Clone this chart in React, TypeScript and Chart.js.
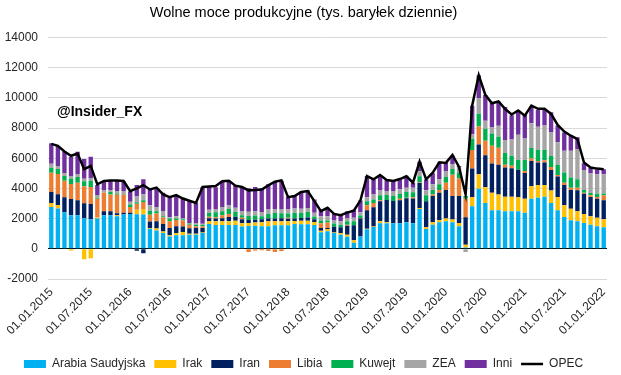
import { useEffect, useRef } from 'react';
import { Chart, registerables } from 'chart.js';

Chart.register(...registerables);

const FONT = '"Liberation Sans", Arial, sans-serif';

// Monthly categories 01.01.2015 .. 01.01.2022
const MONTHS: string[] = [];
for (let i = 0; i < 85; i++) {
  const y = 2015 + Math.floor(i / 12);
  const m = (i % 12) + 1;
  MONTHS.push(`01.${m < 10 ? '0' + m : m}.${y}`);
}

const SERIES_NAMES = ['Arabia Saudyjska', 'Irak', 'Iran', 'Libia', 'Kuwejt', 'ZEA', 'Inni'];
const SERIES_COLORS = ['#00B0F0', '#FFC000', '#002060', '#ED7D31', '#00B050', '#A5A5A5', '#7030A0'];

const arabia = [
  2760, 2670, 2420, 2220, 2220, 2020, 1960, 2000, 2220, 2220, 2160, 2270,
  2310, 2290, 2270, 1330, 1220, 1040, 820, 890, 890, 930, 930, 1040,
  1640, 1580, 1580, 1580, 1580, 1470, 1510, 1530, 1490, 1490, 1560, 1560,
  1560, 1640, 1620, 1620, 1580, 1090, 1160, 1040, 930, 800, 400, 820,
  1290, 1440, 1690, 1690, 1690, 1690, 1760, 1690, 2640, 1310, 1600, 1760,
  1820, 1760, 1490, 90, 2820, 3980, 3040, 2560, 2560, 2490, 2490, 2490,
  2380, 3310, 3380, 3440, 3040, 2560, 2110, 1890, 1820, 1710, 1600, 1490,
  1420,
];
const irak = [
  270, 220, 0, -110, 0, -690, -620, 70, 0, 0, 70, 0,
  0, 290, 360, 40, 130, 110, 70, 160, 220, 70, 70, 40,
  180, 240, 240, 240, 270, 220, 200, 220, 270, 330, 270, 270,
  270, 200, 240, 240, 200, 110, 130, 40, 110, 130, 160, 0,
  40, 40, 130, 70, 0, 0, 0, 0, 70, 110, 160, 130,
  180, 180, 220, 180, 600, 960, 1040, 1160, 1040, 960, 960, 930,
  930, 840, 840, 780, 820, 870, 780, 760, 670, 600, 560, 560,
  530,
];
const iran = [
  730, 730, 1000, 1070, 1000, 1000, 1000, 0, 270, 270, 130, 110,
  70, -130, -290, 440, 470, 490, 490, 440, 360, 360, 400, 290,
  200, 180, 200, 290, 270, 270, 200, 180, 200, 180, 180, 200,
  160, 160, 180, 220, 180, 180, 90, 380, 380, 600, 1000, 1180,
  1220, 1270, 1330, 1470, 1470, 1530, 1580, 1640, 1640, 1730, 1730, 1820,
  1890, 1560, 1780, 1820, 1890, 1960, 2110, 1930, 1960, 1930, 1890, 1820,
  1710, 1670, 1490, 1490, 1360, 1360, 1330, 1240, 1380, 1330, 1270, 1270,
  1270,
];
const libia = [
  1270, 1330, 1090, 1000, 1160, 1130, 1130, 1240, 1220, 1110, 1220, 1180,
  380, 400, 470, 440, 510, 440, 440, 420, 400, 240, 90, 110,
  110, 90, 200, 200, 0, 90, -220, -110, -90, -150, -220, -150,
  70, 0, 0, 0, 0, 310, 360, 0, 0, 70, 0, 40,
  330, 290, 70, 0, 0, 90, 40, 90, 40, 0, 110, 180,
  490, 1400, 1180, 1220, 1240, 1200, 960, 1180, 1130, 180, 160, 0,
  130, 160, 110, 160, 200, 90, 160, 160, 180, 70, 110, 110,
  330,
];
const kuwejt = [
  330, 330, 310, 360, 380, 330, 400, 70, 0, 160, 70, 0,
  180, 110, 110, 270, 160, 70, 180, 90, 90, 70, 110, 110,
  240, 330, 270, 330, 330, 180, 270, 270, 200, 310, 360, 330,
  270, 380, 330, 360, 180, 180, 130, 220, 180, 220, 270, 160,
  270, 220, 330, 330, 330, 330, 380, 330, 420, 400, 290, 380,
  380, 380, 380, 180, 730, 840, 800, 800, 730, 780, 670, 640,
  730, 690, 730, 690, 730, 690, 670, 670, 560, 180, 160, 220,
  110,
];
const zea = [
  270, 200, 200, 130, 160, 160, 200, 180, 180, 130, 180, 270,
  180, 380, 400, 360, 270, 360, 90, 160, 40, 40, 70, 70,
  220, 220, 270, 240, 270, 270, 270, 290, 270, 290, 270, 270,
  270, 290, 290, 270, 240, 290, 290, 200, 220, 220, 220, 220,
  270, 330, 310, 270, 330, 310, 290, 290, 330, 330, 380, 330,
  400, 330, 330, -220, 300, 1040, 530, 440, 730, 870, 1070, 1670,
  1420, 1640, 1530, 1600, 1560, 1490, 1440, 1780, 2000, 1330, 1290, 1290,
  1270,
];
const inni = [
  1360, 1330, 1420, 1310, 1510, 1310, 1400, 670, 600, 600, 670, 620,
  670, 760, 1000, 1110, 1240, 1200, 1290, 1330, 1380, 1490, 1380, 2420,
  1560, 1440, 1690, 1640, 1510, 1560, 1560, 1600, 1590, 1670, 1780, 1870,
  840, 890, 1110, 1160, 890, 440, 560, 420, 440, 440, 530, 780,
  1400, 1000, 1000, 710, 670, 640, 780, 330, 620, 710, 730, 1110,
  560, 560, 110, 0, 1900, 1510, 1710, 1600, 1600, 2180, 1600, 1600,
  1600, 1110, 1110, 1040, 1330, 1110, 1220, 1000, 780, 440, 360, 330,
  330,
];
const opec = [
  6950, 6820, 6440, 6160, 6310, 5270, 5490, 4270, 4490, 4530, 4530, 4490,
  3820, 4000, 4220, 3930, 4050, 3600, 3420, 3560, 3330, 3180, 3040, 4090,
  4130, 4160, 4470, 4510, 4180, 4090, 3870, 3890, 3930, 4200, 4440, 4530,
  3420, 3490, 3760, 3820, 3160, 2490, 2710, 2310, 2220, 2400, 2530, 3200,
  4820, 4600, 4890, 4560, 4490, 4620, 4800, 4380, 5780, 4600, 5040, 5730,
  5690, 6220, 5420, 3600, 9490, 11490, 10200, 9640, 9760, 9270, 8890, 9160,
  8820, 9490, 9270, 9270, 8930, 8200, 7760, 7490, 7270, 5710, 5380, 5310,
  5270,
];

const SERIES_VALUES = [arabia, irak, iran, libia, kuwejt, zea, inni];

const TITLE = 'Wolne moce produkcyjne (tys. baryłek dziennie)';
const WATERMARK = '@Insider_FX';

const watermarkPlugin = {
  id: 'watermark',
  afterDraw(chart: any) {
    const ctx = chart.ctx;
    ctx.save();
    ctx.font = `bold 14px ${FONT}`;
    ctx.fillStyle = '#000';
    ctx.textBaseline = 'middle';
    ctx.textAlign = 'left';
    ctx.fillText(WATERMARK, 57, 112);
    ctx.restore();
  },
};

export default function App() {
  const ref = useRef<HTMLCanvasElement | null>(null);

  useEffect(() => {
    if (!ref.current) return;
    const barSets = SERIES_NAMES.map((name, i) => ({
      type: 'bar' as const,
      label: name,
      data: SERIES_VALUES[i],
      backgroundColor: SERIES_COLORS[i],
      borderWidth: 0,
      stack: 'bars',
      order: 1,
      barPercentage: 0.66,
      categoryPercentage: 1,
    }));
    const chart = new Chart(ref.current, {
      type: 'bar',
      data: {
        labels: MONTHS,
        datasets: [
          ...barSets,
          {
            type: 'line' as const,
            label: 'OPEC',
            data: opec,
            borderColor: '#000',
            backgroundColor: '#000',
            borderWidth: 2.5,
            pointRadius: 0,
            tension: 0,
            stack: 'line',
            order: 0,
          } as any,
        ],
      },
      options: {
        animation: false,
        responsive: true,
        maintainAspectRatio: false,
        devicePixelRatio: 1,
        layout: { padding: { left: 0, right: 14, top: 0, bottom: -5 } },
        plugins: {
          title: {
            display: true,
            text: TITLE,
            color: '#000',
            font: { family: FONT, size: 14.5, weight: 'normal' },
            padding: { top: 4, bottom: 16 },
          },
          legend: {
            position: 'bottom',
            labels: {
              usePointStyle: true,
              pointStyleWidth: 22,
              boxHeight: 8,
              padding: 9,
              color: '#262626',
              font: { family: FONT, size: 12 },
              generateLabels: (c: any) => {
                const items = Chart.defaults.plugins.legend.labels.generateLabels(c);
                items.sort((a: any, b: any) => a.datasetIndex - b.datasetIndex);
                items.forEach((it: any) => {
                  if (it.datasetIndex === 7) {
                    it.pointStyle = 'line';
                    it.lineWidth = 2.5;
                    it.strokeStyle = '#000';
                    it.fillStyle = '#000';
                  } else {
                    it.pointStyle = 'rect';
                    it.lineWidth = 0;
                  }
                });
                return items;
              },
            },
          },
          tooltip: { enabled: false },
        },
        scales: {
          x: {
            stacked: true,
            grid: { display: false, drawTicks: false },
            border: { display: false },
            ticks: {
              autoSkip: false,
              maxRotation: 45,
              minRotation: 45,
              padding: 6,
              color: '#262626',
              font: { family: FONT, size: 12 },
              callback: (_v: any, idx: number) => (idx % 6 === 0 ? MONTHS[idx] : ''),
            },
            afterFit: (s: any) => {
              s.height = 70;
            },
          },
          y: {
            stacked: true,
            min: -2000,
            max: 14000,
            border: { display: false },
            grid: {
              drawTicks: false,
              color: (ctx: any) => (ctx.tick && ctx.tick.value === 0 ? '#000' : '#D9D9D9'),
              lineWidth: 1,
            },
            ticks: {
              stepSize: 2000,
              padding: 10,
              color: '#262626',
              font: { family: FONT, size: 12 },
              callback: (v: any) => String(v),
            },
            afterFit: (s: any) => {
              s.width = 48;
            },
          },
        },
      } as any,
      plugins: [watermarkPlugin],
    });
    return () => chart.destroy();
  }, []);

  return (
    <div style={{ position: 'absolute', left: 0, top: 0, width: 621, height: 375 }}>
      <canvas ref={ref} />
    </div>
  );
}
